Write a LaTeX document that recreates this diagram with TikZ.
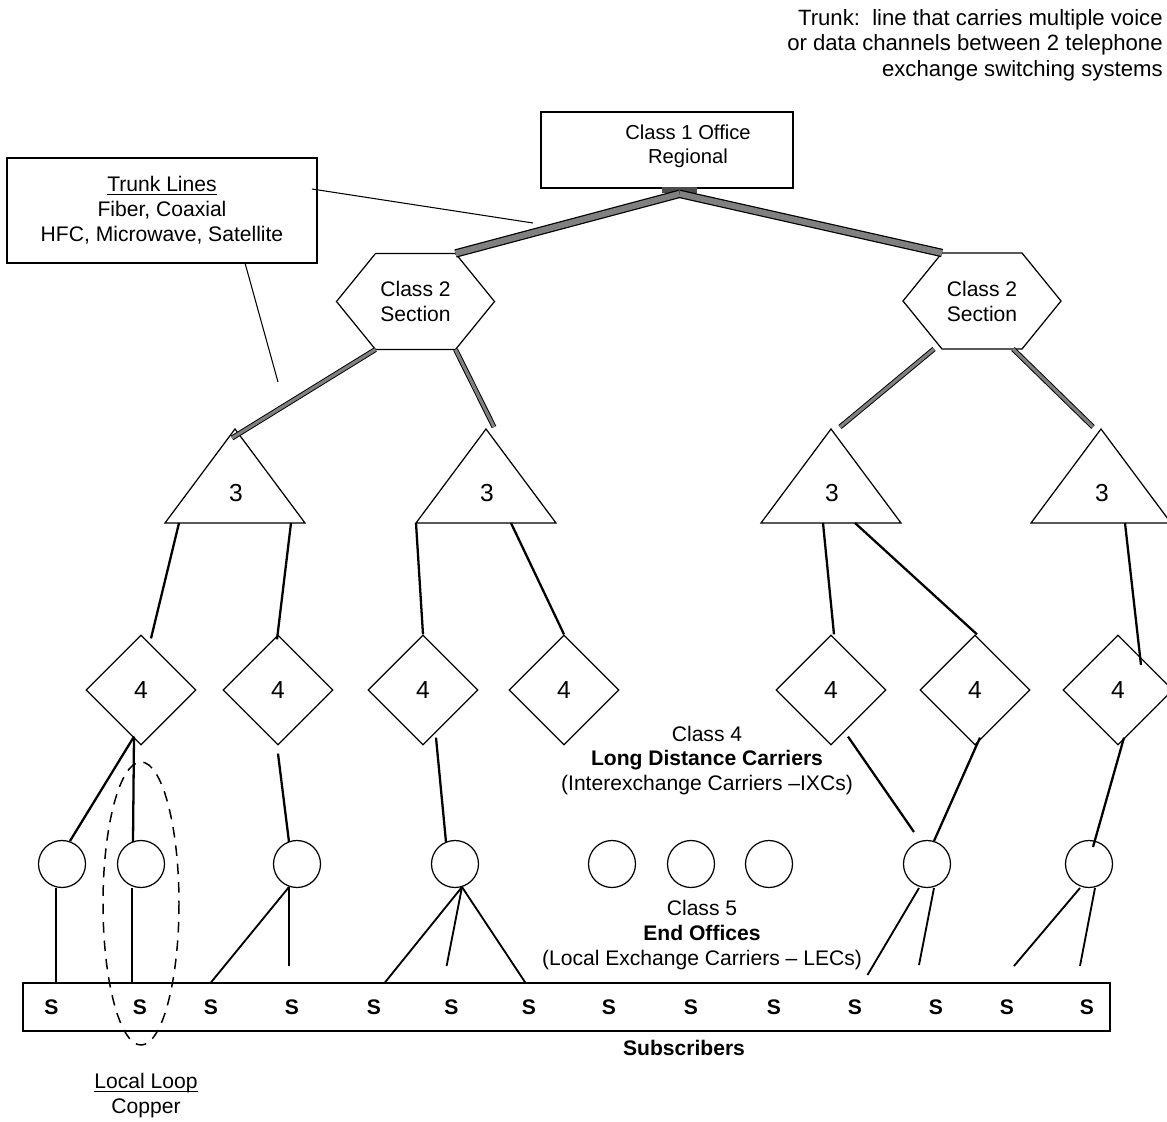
\documentclass[tikz,border=0pt]{standalone}
\usepackage{fontspec}
\setmainfont{Liberation Sans}
\usetikzlibrary{shapes.geometric,calc}
\newcommand\tightul[1]{\underline{\smash{#1}}\vphantom{#1}}
\begin{document}
\begin{tikzpicture}[x=0.02cm, y=-0.02cm,
  every node/.style={inner sep=0pt},
  txt/.style={font=\fontsize{12}{14.2}\selectfont, align=center},
  frame/.style={draw, line width=0.7pt},
  endoffice/.style={circle, draw, line width=0.7pt, minimum size=0.94cm},
  tollcenter/.style={diamond, draw, line width=0.7pt, minimum width=2.2cm, minimum height=2.2cm, font=\fontsize{14}{16}\selectfont},
  subscriber/.style={font=\fontsize{12}{14}\selectfont\bfseries},
  bigtrunk/.style={line width=0.7pt, double=black!50, double distance=3.4pt},
  trunk/.style={line width=0.55pt, double=black!50, double distance=1.8pt},
  link/.style={line width=1.3pt},
  drop/.style={line width=1.05pt},
  note/.style={line width=0.6pt},
  sectionhex/.pic={
    \draw[line width=0.7pt] (-79,0) -- (-40,-48) -- (40,-48) -- (79,0) -- (40,48) -- (-40,48) -- cycle;
    \coordinate (-tl) at (-40,-48);
    \coordinate (-tr) at (40,-48);
    \coordinate (-bl) at (-40,48);
    \coordinate (-br) at (40,48);
    \node[txt] at (0,0) {Class 2\\Section};
  },
  primarytri/.pic={
    \draw[line width=0.7pt] (0,0) -- (70,94) -- (-70,94) -- cycle;
    \coordinate (-apex) at (0,0);
    \node[font=\fontsize{14}{16}\selectfont] at (1,64) {3};
  },
]
\useasboundingbox (0,0) rectangle (1167,1122);

% definition note, top right
\node[font=\fontsize{12.6}{14.5}\selectfont, align=right, anchor=east] (trunkdef) at (1163,45)
  {Trunk:\ \ line that carries multiple voice\\or data channels between 2 telephone\\exchange switching systems};

% class 1 office with its trunk hub
\node[frame, minimum width=5.04cm, minimum height=1.52cm] (class1) at (667,150) {};
\node[font=\fontsize{11.5}{13.5}\selectfont, align=center] (class1txt) at (688,146) {Class 1 Office\\Regional};
\node[fill=black!70, minimum width=0.7cm, minimum height=0.14cm] (hub) at (679.5,190) {};

% trunk lines legend
\node[frame, txt, minimum width=6.2cm, minimum height=2.1cm] (trunkbox) at (162,210.5)
  {\tightul{Trunk Lines}\\Fiber, Coaxial\\HFC, Microwave, Satellite};

% class 2 sections
\pic (secL) at (415.5,301.5) {sectionhex};
\pic (secR) at (982,301) {sectionhex};

% class 3 primary centers
\pic (prA) at (235,429) {primarytri};
\pic (prB) at (486,429) {primarytri};
\pic (prC) at (831,429) {primarytri};
\pic (prD) at (1101,429) {primarytri};

% class 4 toll centers
\foreach \n/\x in {1/141,2/278,3/423,4/564,5/831,6/975,7/1118}
  \node[tollcenter] (toll\n) at (\x,690) {4};

% class 5 end offices
\foreach \n/\x in {1/62,2/141,3/297,4/455,5/612,6/691,7/769,8/927,9/1089}
  \node[endoffice] (eo\n) at (\x,864) {};

% subscribers
\node[frame, minimum width=21.74cm, minimum height=0.96cm] (subs) at (566.5,1007) {};
\foreach \n/\x in {1/51.5,2/140,3/211,4/292,5/374,6/451.5,7/529,8/609,9/691,10/774,11/855,12/936,13/1007,14/1087}
  \node[subscriber] (s\n) at (\x,1007) {S};

% labels
\node[txt] (class4) at (707,760.5) {Class 4\\\textbf{Long Distance Carriers}\\(Interexchange Carriers –IXCs)};
\node[txt] (class5) at (702,935) {Class 5\\\textbf{End Offices}\\(Local Exchange Carriers – LECs)};
\node[subscriber] (subslbl) at (684,1048) {Subscribers};
\node[txt] (loop) at (146,1096) {\tightul{Local Loop}\\Copper};

% local loop marker
\draw[line width=0.85pt, dash pattern=on 6pt off 4.5pt] (141,903.5) ellipse [x radius=38, y radius=141.5];

% legend pointers
\coordinate (nA1) at (312,189);
\coordinate (nA2) at (533,223);
\coordinate (nB1) at (245,263);
\coordinate (nB2) at (278,382);
\draw[note] (nA1) -- (nA2);
\draw[note] (nB1) -- (nB2);

% high capacity trunks
\draw[bigtrunk] (hub.south) -- (secL-tr);
\draw[bigtrunk] (hub.south) -- (secR-tl);
\draw[trunk] (secL-bl) -- ($(prA-apex)+(-3,9)$);
\draw[trunk] (secL-br) -- ($(prB-apex)+(8,-2)$);
\draw[trunk] ($(secR-bl)+(-8,0)$) -- ($(prC-apex)+(9,-2)$);
\draw[trunk] ($(secR-br)+(-9,0)$) -- ($(prD-apex)+(-8,-2)$);

% class 3 to class 4
\draw[link] ($(prA-apex)+(-56,94)$) -- ($(toll1.north)+(10,4)$);
\draw[link] ($(prA-apex)+(56,94)$) -- ($(toll2.north)+(-1,5)$);
\draw[link] ($(prB-apex)+(-70,94)$) -- (toll3.north);
\draw[link] ($(prB-apex)+(25,94)$) -- (toll4.north);
\draw[link] ($(prC-apex)+(-8,94)$) -- ($(toll5.north)+(3,0)$);
\draw[link] ($(prC-apex)+(24,94)$) -- ($(toll6.north)+(2,0)$);
\draw[link] ($(prD-apex)+(24,94)$) -- ($(toll7.center)+(23,-25)$);

% class 4 to class 5
\draw[link] ($(toll1.south)+(-7,-9)$) -- ($(eo1.center)+(8,-23)$);
\draw[link] ($(toll1.south)+(-7,-9)$) -- ($(eo2.center)+(-8,-22)$);
\draw[link] ($(toll2.south)+(0,8)$) -- ($(eo3.center)+(-8,-22)$);
\draw[link] ($(toll3.south)+(13,-8)$) -- ($(eo4.center)+(-9,-22)$);
\draw[link] ($(toll5.south)+(17,-9)$) -- ($(eo8.center)+(-13,-32)$);
\draw[link] ($(toll6.south)+(5,-8)$) -- ($(eo8.center)+(7,-23)$);
\draw[link] ($(toll7.south)+(6,-8)$) -- ($(eo9.center)+(4,-17)$);

% local loops
\coordinate (b1) at ($(eo1.center)+(-6,24)$);
\coordinate (b2) at ($(eo2.center)+(-8.6,24)$);
\coordinate (b3) at ($(eo3.center)+(-8,23)$);
\coordinate (b4) at ($(eo4.center)+(7,23)$);
\coordinate (b8a) at ($(eo8.center)+(-8,24)$);
\coordinate (b8b) at ($(eo8.center)+(7,24)$);
\coordinate (b9a) at ($(eo9.center)+(-9,24)$);
\coordinate (b9b) at ($(eo9.center)+(6,24)$);
\coordinate (e3) at (289,966);
\coordinate (e4a) at (384.5,983);
\coordinate (e4b) at (446.6,966);
\coordinate (e4c) at (525.6,983);
\coordinate (e8a) at (867.5,975);
\coordinate (e8b) at (919,965);
\coordinate (e9a) at (1014,966);
\coordinate (e9b) at (1080,966);
\draw[drop] (b1) -- (b1 |- subs.north);
\draw[drop] (b2) -- (b2 |- subs.north);
\draw[drop] (b3) -- (s3 |- subs.north);
\draw[drop] (b3) -- (e3);
\draw[drop] (b4) -- (e4a);
\draw[drop] (b4) -- (e4b);
\draw[drop] (b4) -- (e4c);
\draw[drop] (b8a) -- (e8a);
\draw[drop] (b8b) -- (e8b);
\draw[drop] (b9a) -- (e9a);
\draw[drop] (b9b) -- (e9b);
\end{tikzpicture}
\end{document}
